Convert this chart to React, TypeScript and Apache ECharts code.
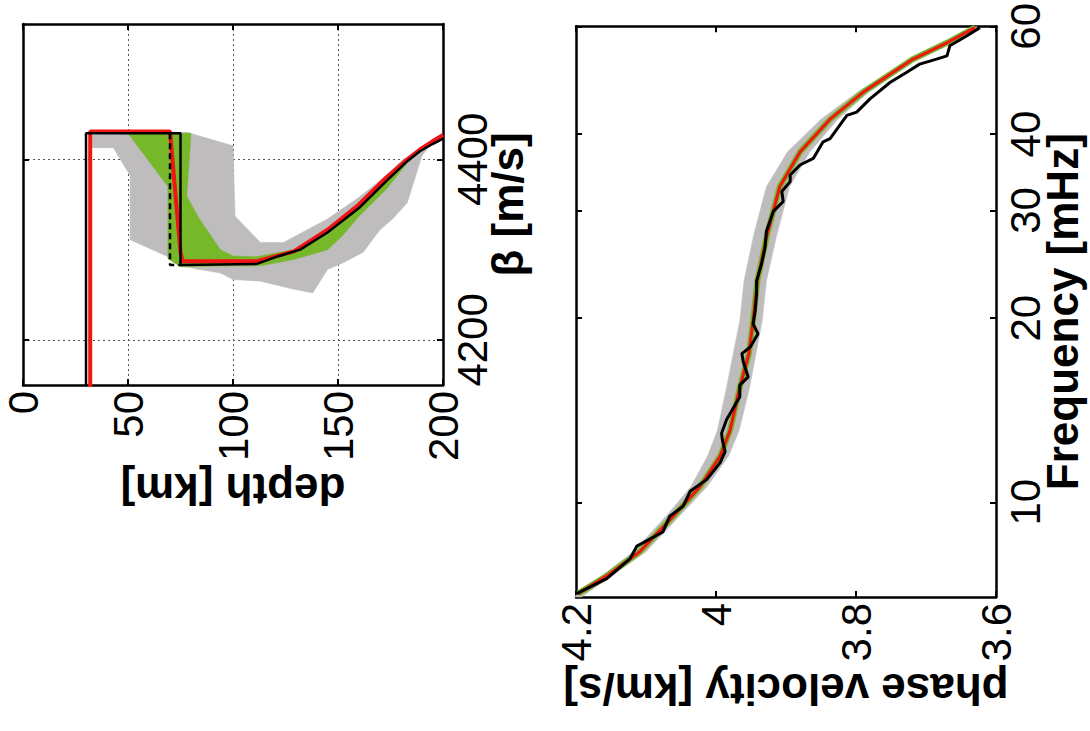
import React, { useEffect, useRef } from "react";
import * as echarts from "echarts";

// ---------- tick values ----------
const depthTicks = [0, 50, 100, 150, 200];
const betaTicks = [4200, 4400];
const velocityTicks = [4.2, 4.0, 3.8, 3.6];
const freqTicks = [10, 20, 30, 40, 60];

// ---------- left panel: shear-velocity profiles [depth km, beta m/s] ----------
const trueModel: number[][] = [
  [30, 4100], [30, 4429], [75, 4429], [75, 4283], [111, 4284], [122, 4293],
  [132, 4300], [145, 4319], [160, 4346], [173, 4376], [183, 4398], [189, 4409],
  [195, 4417], [200, 4423],
];
const bestModel: number[][] = [
  [32, 4100], [32, 4431], [70, 4431], [75, 4297], [76, 4287], [111, 4287],
  [129, 4298], [145, 4322], [160, 4350], [173, 4380], [183, 4400], [189, 4411],
  [195, 4420], [200, 4427],
];
const startModel: number[][] = [[70, 4429], [70, 4283], [75, 4283]];
const grayEnvelope: number[][] = [
  [33, 4427], [78, 4430], [100, 4415], [101, 4337], [113, 4308], [124, 4308],
  [145, 4334], [160, 4358], [173, 4382], [181, 4400], [188, 4408], [194, 4416],
  [190, 4404], [183, 4352], [176, 4334], [170, 4322], [162, 4297], [152, 4285],
  [145, 4278], [138, 4252], [129, 4256], [122, 4260], [113, 4265], [100, 4267],
  [94, 4274], [84, 4278], [75, 4282], [72, 4289], [51, 4311], [51, 4382],
  [43, 4413], [33, 4413],
];
const greenEnvelope: number[][] = [
  [50, 4429], [80, 4429], [78, 4359], [84, 4334], [94, 4300], [100, 4293],
  [111, 4292], [129, 4300], [145, 4323], [160, 4352], [173, 4381], [183, 4401],
  [183, 4396], [173, 4367], [160, 4337], [152, 4315], [145, 4300], [129, 4289],
  [113, 4282], [100, 4282], [75, 4281], [69, 4290], [69, 4370],
];

// ---------- right panel: dispersion curves ----------
const obsVelocity = [
  4.199, 4.156, 4.123, 4.113, 4.076, 4.066, 4.047, 4.037, 4.013, 3.994, 3.987,
  3.991, 3.992, 3.985, 3.966, 3.966, 3.954, 3.961, 3.963, 3.951, 3.940, 3.947,
  3.944, 3.942, 3.942, 3.935, 3.930, 3.928, 3.923, 3.918, 3.904, 3.906, 3.894,
  3.894, 3.880, 3.861, 3.847, 3.837, 3.813, 3.799, 3.780, 3.751, 3.728, 3.709,
  3.685, 3.670, 3.666, 3.642, 3.623,
];
const obsFreq = [
  7.09, 7.5, 8.08, 8.48, 8.94, 9.49, 9.85, 10.42, 10.9, 11.61, 12.1, 12.66,
  12.97, 13.64, 14.88, 15.54, 16.03, 16.96, 17.5, 17.94, 18.86, 19.58, 20.57,
  21.9, 23.01, 24.5, 26.07, 27.75, 28.8, 29.9, 31.03, 32.21, 33.45, 34.29,
  35.6, 36.49, 38.85, 39.33, 42.92, 43.45, 45.66, 48.61, 50.45, 52.05, 53.04,
  53.7, 55.76, 57.87, 59.7,
];
const fitVelocity = [
  4.197, 4.156, 4.109, 4.061, 4.023, 3.994, 3.98, 3.966, 3.953, 3.947, 3.941,
  3.927, 3.909, 3.88, 3.837, 3.79, 3.719, 3.67, 3.63,
];
const fitFreq = [
  7.09, 7.58, 8.3, 9.49, 10.6, 11.9, 13.1, 15.4, 17.5, 19.8, 23.0, 27.4, 32.8,
  37.4, 42.3, 46.8, 53.0, 56.4, 59.7,
];
const bandFreq = [
  7.0, 8.3, 9.5, 10.6, 11.9, 13.1, 15.4, 19.8, 23.0, 27.4, 32.8, 37.4, 42.3,
  46.8, 53.0, 59.9,
];
const bandVHigh = [
  4.203, 4.118, 4.071, 4.036, 4.012, 3.998, 3.985, 3.966, 3.96, 3.946, 3.928,
  3.898, 3.85, 3.798, 3.724, 3.632,
];
const bandVLow = [
  4.192, 4.1, 4.052, 4.013, 3.982, 3.967, 3.952, 3.934, 3.928, 3.913, 3.895,
  3.866, 3.826, 3.782, 3.713, 3.627,
];

const FONT = "'Liberation Sans', Arial, Helvetica, sans-serif";
const GRAY = "#bebcbc";
const GREEN = "#77b72a";
const RED = "#f01414";

const zip = (a: number[], b: number[]) => a.map((v, i) => [v, b[i]]);

function polygonSeries(points: number[][], color: string, gi: number, z: number) {
  return {
    type: "custom",
    xAxisIndex: gi * 2,
    yAxisIndex: gi * 2,
    z,
    silent: true,
    data: points,
    renderItem: (params: any, api: any) => {
      if (params.dataIndex !== 0) return null;
      const pts = points.map((p) => api.coord(p));
      return {
        type: "polygon",
        shape: { points: pts },
        style: { fill: color, stroke: color, lineWidth: 0.5 },
      };
    },
  };
}

const axisLine = { show: true, onZero: false, lineStyle: { color: "#000", width: 2.5 } };
const tick = (vals?: number[]) => ({
  show: true,
  inside: true,
  length: 6,
  lineStyle: { color: "#000", width: 2 },
  ...(vals ? { customValues: vals } : {}),
});
const labelStyle = { fontSize: 42, color: "#000", fontFamily: FONT };
const nameStyle = { fontSize: 44, fontWeight: "bold" as const, color: "#000", fontFamily: FONT };
const gridLine = { show: true, lineStyle: { color: "#555", type: [2, 3], width: 1 } };
const plain = (v: number) => String(Math.round(v * 10) / 10);

export default function App() {
  const ref = useRef<HTMLDivElement>(null);
  useEffect(() => {
    if (!ref.current) return;
    const chart = echarts.init(ref.current, null, { renderer: "svg" });
    const bandPoly = [
      ...zip(bandVHigh, bandFreq),
      ...zip(bandVLow, bandFreq).reverse(),
    ];
    chart.setOption({
      animation: false,
      backgroundColor: "#fff",
      grid: [
        { left: 23, top: 24, width: 420, height: 361 },
        { left: 576, top: 24, width: 420, height: 573 },
      ],
      xAxis: [
        {
          gridIndex: 0, type: "value", min: depthTicks[0], max: depthTicks[depthTicks.length - 1], interval: 50,
          position: "bottom", axisLine, axisTick: tick(),
          axisLabel: { ...labelStyle, rotate: 90, margin: 6, formatter: plain },
          splitLine: gridLine,
          name: "depth [km]", nameLocation: "middle", nameRotate: 180,
          nameGap: 82, nameMoveOverlap: false, nameTextStyle: nameStyle,
        },
        {
          gridIndex: 0, type: "value", min: 0, max: 200, interval: 50,
          position: "top", axisLine, axisTick: tick(),
          axisLabel: { show: false }, splitLine: { show: false },
        },
        {
          gridIndex: 1, type: "value", min: 3.6, max: 4.2, inverse: true,
          position: "bottom", axisLine, axisTick: tick(velocityTicks),
          axisLabel: {
            ...labelStyle, rotate: 90, margin: 6, customValues: velocityTicks,
            formatter: plain,
          },
          splitLine: { show: false },
          name: "phase velocity [km/s]", nameLocation: "middle", nameRotate: 180,
          nameGap: 70, nameMoveOverlap: false, nameTextStyle: nameStyle,
        },
        {
          gridIndex: 1, type: "value", min: 3.6, max: 4.2, inverse: true,
          position: "top", axisLine, axisTick: tick(velocityTicks),
          axisLabel: { show: false }, splitLine: { show: false },
        },
      ],
      yAxis: [
        {
          gridIndex: 0, type: "value", min: 4150, max: 4550, position: "right",
          axisLine, axisTick: tick(betaTicks),
          axisLabel: { ...labelStyle, rotate: 90, margin: 8, customValues: betaTicks, formatter: plain },
          splitLine: gridLine,
          name: "β [m/s]", nameLocation: "middle", nameRotate: 90,
          nameGap: 42, nameMoveOverlap: false, nameTextStyle: nameStyle,
        },
        {
          gridIndex: 0, type: "value", min: 4150, max: 4550, position: "left",
          axisLine, axisTick: tick(betaTicks),
          axisLabel: { show: false }, splitLine: { show: false },
        },
        {
          gridIndex: 1, type: "log", min: 7, max: 60, position: "right",
          axisLine, axisTick: tick(freqTicks),
          axisLabel: { ...labelStyle, rotate: 90, margin: 8, customValues: freqTicks, formatter: plain },
          splitLine: { show: false }, minorTick: { show: false },
          name: "Frequency [mHz]", nameLocation: "middle", nameRotate: 90,
          nameGap: 44, nameMoveOverlap: false, nameTextStyle: nameStyle,
        },
        {
          gridIndex: 1, type: "log", min: 7, max: 60, position: "left",
          axisLine, axisTick: tick(freqTicks),
          axisLabel: { show: false }, splitLine: { show: false },
        },
      ],
      series: [
        polygonSeries(grayEnvelope, GRAY, 0, 1),
        polygonSeries(greenEnvelope, GREEN, 0, 2),
        {
          type: "line", xAxisIndex: 0, yAxisIndex: 0, data: bestModel, z: 3,
          showSymbol: false, lineStyle: { color: RED, width: 4 }, silent: true,
        },
        {
          type: "line", xAxisIndex: 0, yAxisIndex: 0, data: trueModel, z: 4,
          showSymbol: false, lineStyle: { color: "#000", width: 2.5 }, silent: true,
        },
        {
          type: "line", xAxisIndex: 0, yAxisIndex: 0, data: startModel, z: 4,
          showSymbol: false, lineStyle: { color: "#000", width: 2.5, type: [6, 4] }, silent: true,
        },
        polygonSeries(bandPoly, GRAY, 1, 1),
        {
          type: "line", xAxisIndex: 2, yAxisIndex: 2, data: zip(fitVelocity, fitFreq), z: 2,
          showSymbol: false, lineStyle: { color: GREEN, width: 6 }, silent: true,
        },
        {
          type: "line", xAxisIndex: 2, yAxisIndex: 2, data: zip(fitVelocity, fitFreq), z: 3,
          showSymbol: false, lineStyle: { color: RED, width: 3 }, silent: true,
        },
        {
          type: "line", xAxisIndex: 2, yAxisIndex: 2, data: zip(obsVelocity, obsFreq), z: 4,
          showSymbol: false, lineStyle: { color: "#000", width: 3 }, silent: true,
        },
      ],
    });
    return () => chart.dispose();
  }, []);
  return (
    <div
      ref={ref}
      style={{ position: "fixed", left: 0, top: 0, width: 1090, height: 731, background: "#fff" }}
    />
  );
}
